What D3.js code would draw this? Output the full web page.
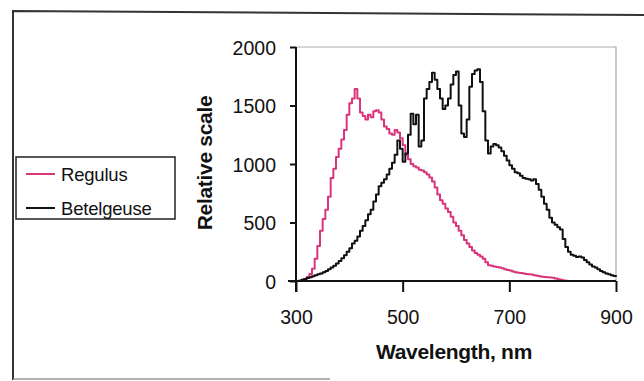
<!DOCTYPE html>
<html><head><meta charset="utf-8">
<script src="https://cdn.jsdelivr.net/npm/d3@7"></script>
<style>
html,body{margin:0;padding:0;background:#fff;}
svg{display:block;}
text{font-family:"Liberation Sans",Arial,sans-serif;fill:#111;}
</style></head>
<body><svg id="c" width="644" height="381"></svg>
<script>
const seriesNames = ["Regulus", "Betelgeuse"];
const seriesColors = ["#d9357d", "#111111"];
const xTicks = [300, 500, 700, 900];
const yTicks = [0, 500, 1000, 1500, 2000];
const xTitle = "Wavelength, nm";
const yTitle = "Relative scale";

const regulusWl = [300,305,310,315,320,325,330,335,340,345,350,355,360,365,370,375,380,385,390,395,400,405,410,415,420,425,430,435,440,445,450,455,460,465,470,475,480,485,490,495,500,505,510,515,520,525,530,535,540,545,550,555,560,565,570,575,580,585,590,595,600,605,610,615,620,625,630,635,640,645,650,655,660,665,670,675,680,685,690,695,700,705,710,715,720,725,730,735,740,745,750,755,760,765,770,775,780,785,790,795,800,805,810];
const regulusVal = [0,0,8,18,35,60,105,190,300,430,530,610,720,880,960,1060,1130,1210,1290,1420,1520,1560,1640,1560,1440,1410,1380,1420,1400,1450,1460,1440,1380,1320,1300,1260,1250,1290,1270,1220,1160,1080,1040,1000,980,970,950,945,930,910,885,850,800,740,690,660,620,590,550,500,470,430,390,350,320,290,260,240,225,210,190,160,135,130,125,120,115,110,100,95,90,82,75,70,68,65,60,58,55,50,45,40,37,35,32,30,27,22,15,10,5,2,0];

const betelWl = [300,305,310,315,320,325,330,335,340,345,350,355,360,365,370,375,380,385,390,395,400,405,410,415,420,425,430,435,440,445,450,455,460,465,470,475,480,485,490,495,500,505,510,515,520,525,530,535,540,545,550,555,560,565,570,575,580,585,590,595,600,605,610,615,620,625,630,635,640,645,650,655,660,665,670,675,680,685,690,695,700,705,710,715,720,725,730,735,740,745,750,755,760,765,770,775,780,785,790,795,800,805,810,815,820,825,830,835,840,845,850,855,860,865,870,875,880,885,890,895,900];
const betelVal = [0,2,10,18,25,32,40,50,58,65,75,85,100,115,130,150,170,195,220,250,280,320,345,380,430,470,520,570,610,680,740,810,840,870,910,960,1010,1080,1200,1130,1020,1090,1250,1430,1340,1420,1150,1200,1560,1640,1700,1780,1720,1640,1560,1470,1500,1560,1680,1760,1790,1500,1260,1230,1380,1660,1770,1800,1810,1700,1450,1200,1090,1150,1170,1160,1140,1110,1070,1030,990,960,930,920,900,880,875,870,860,870,830,780,720,660,610,540,500,480,460,440,360,290,250,225,215,205,210,200,180,160,140,125,115,100,85,75,65,58,50,42,37];

const svg = d3.select("#c");

// outer frame (scanned, slightly tilted)
svg.append("path").attr("d","M13,380 L13,11 L644,15").attr("fill","none").attr("stroke","#333").attr("stroke-width",2);
svg.append("line").attr("x1",13).attr("x2",330).attr("y1",379).attr("y2",379).attr("stroke","#999").attr("stroke-width",1.5);

const x = d3.scaleLinear().domain([300,900]).range([296,616]);
const y = d3.scaleLinear().domain([0,2000]).range([281,47]);

// plot border (top/right)
svg.append("path").attr("d",`M${x(300)},${y(2000)} L${x(900)},${y(2000)} L${x(900)},${y(0)}`)
  .attr("fill","none").attr("stroke","#aaa").attr("stroke-width",1.2);

const lineGen = d3.line().x(d=>x(d[0])).y(d=>y(d[1])).curve(d3.curveStepAfter);
const reg = regulusWl.map((w,i)=>[w,regulusVal[i]]);
const bet = betelWl.map((w,i)=>[w,betelVal[i]]);
svg.append("path").datum(reg).attr("d",lineGen).attr("fill","none").attr("stroke",seriesColors[0]).attr("stroke-width",2).attr("stroke-linejoin","round");
svg.append("path").datum(bet).attr("d",lineGen).attr("fill","none").attr("stroke",seriesColors[1]).attr("stroke-width",2).attr("stroke-linejoin","round");

// axes
const yAx = svg.append("g").attr("transform",`translate(${x(300)},0)`)
  .call(d3.axisLeft(y).tickValues(yTicks).tickSize(6).tickPadding(14).tickFormat(d3.format("d")));
yAx.select(".domain").remove();
yAx.selectAll(".tick line").attr("stroke","#111").attr("stroke-width",2);
yAx.selectAll("text").attr("font-size",19.5).attr("fill","#111").attr("dy","0.36em");
svg.append("line").attr("x1",x(300)).attr("x2",x(300)).attr("y1",y(2000)).attr("y2",y(0)+11).attr("stroke","#111").attr("stroke-width",2);

const xAx = svg.append("g").attr("transform",`translate(0,${y(0)})`)
  .call(d3.axisBottom(x).tickValues(xTicks).tickSize(11).tickPadding(18).tickFormat(d3.format("d")));
xAx.select(".domain").remove();
xAx.selectAll(".tick line").attr("stroke","#111").attr("stroke-width",2);
xAx.selectAll("text").attr("font-size",19.5).attr("fill","#111");
svg.append("line").attr("x1",x(300)-8).attr("x2",x(900)).attr("y1",y(0)).attr("y2",y(0)).attr("stroke","#111").attr("stroke-width",2);

// titles
svg.append("text").attr("x",454).attr("y",359).attr("text-anchor","middle")
  .attr("font-size",21).attr("font-weight","bold").attr("letter-spacing","-0.3").text(xTitle);
svg.append("text").attr("transform","translate(212,163) rotate(-90)").attr("text-anchor","middle")
  .attr("font-size",21).attr("font-weight","bold").attr("letter-spacing","-0.3").text(yTitle);

// legend
const lg = svg.append("g");
lg.append("rect").attr("x",16).attr("y",157).attr("width",159).attr("height",62).attr("fill","#fff").attr("stroke","#222").attr("stroke-width",1.5);
seriesNames.forEach((n,i)=>{
  const yy = 174 + i*34;
  lg.append("line").attr("x1",26).attr("x2",55).attr("y1",yy).attr("y2",yy).attr("stroke",seriesColors[i]).attr("stroke-width",2);
  lg.append("text").attr("x",61).attr("y",yy+7).attr("font-size",18.5).attr("letter-spacing","-0.2").text(n);
});
</script></body></html>
